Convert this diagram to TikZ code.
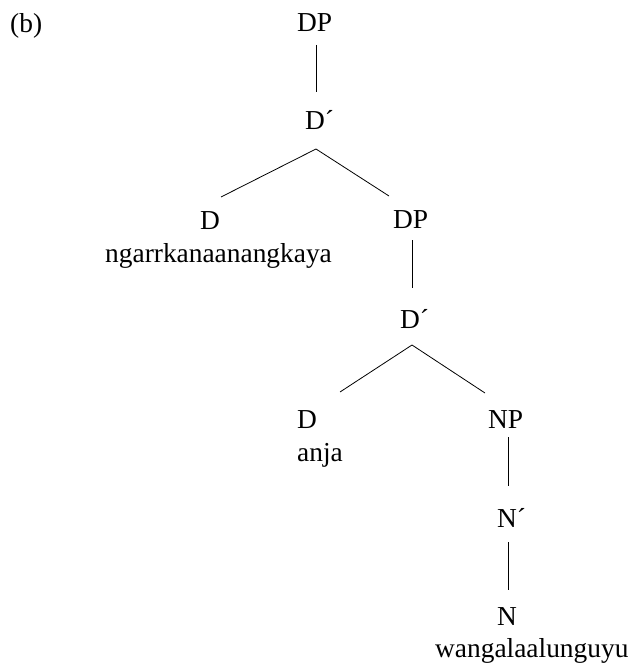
\documentclass[tikz,border=0pt]{standalone}
\usepackage{fontspec}
\setmainfont{Liberation Serif}
\usetikzlibrary{calc}
\begin{document}
\begin{tikzpicture}[x=1bp,y=-1bp,
  lab/.style={anchor=base west,inner sep=0pt,font=\fontsize{27.5}{32}\selectfont},
  edge/.style={line width=0.8bp}]
\useasboundingbox (0,0) rectangle (635,665);
\node[lab] (tag) at (10,33) {(b)};
\node[lab] (dp1) at (297,32) {DP};
\node[lab] (db1) at (305,130) {D´};
\node[lab] (d1)  at (200,229) {D};
\node[lab] (w1)  at (105,262) {ngarrkanaanangkaya};
\node[lab] (dp2) at (393,228) {DP};
\node[lab] (db2) at (400,328) {D´};
\node[lab] (d2)  at (297,428) {D};
\node[lab] (w2)  at (297,461) {anja};
\node[lab] (np)  at (488,428) {NP};
\node[lab] (nb)  at (497,527) {N´};
\node[lab] (n)   at (497,625) {N};
\node[lab] (w3)  at (435,657) {wangalaalunguyu};
\draw[edge] ($(dp1.base west)+(19,13)$) -- ($(db1.base west)+(11,-38)$);
\draw[edge] ($(db1.base west)+(11,19)$) -- ($(d1.base west)+(21,-32)$);
\draw[edge] ($(db1.base west)+(11,19)$) -- ($(dp2.base west)+(-4,-32)$);
\draw[edge] ($(dp2.base west)+(19,12)$) -- ($(db2.base west)+(12,-40)$);
\draw[edge] ($(db2.base west)+(12,17)$) -- ($(d2.base west)+(43,-36)$);
\draw[edge] ($(db2.base west)+(12,17)$) -- ($(np.base west)+(-3,-35)$);
\draw[edge] ($(np.base west)+(20,9)$) -- ($(nb.base west)+(11,-41)$);
\draw[edge] ($(nb.base west)+(11,15)$) -- ($(n.base west)+(11,-35)$);
\end{tikzpicture}
\end{document}
